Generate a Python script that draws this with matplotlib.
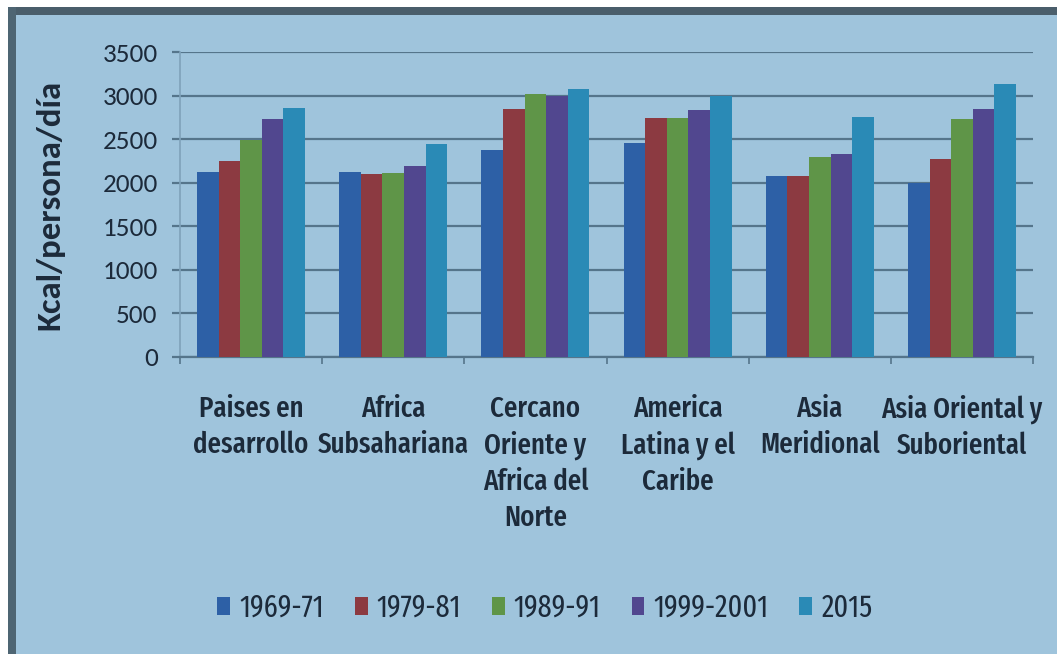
import matplotlib
matplotlib.use("Agg")
import numpy as np
from matplotlib import pyplot as plt, patches
from matplotlib.patches import Patch

regions = [
    "Paises en\ndesarrollo",
    "Africa\nSubsahariana",
    "Cercano\nOriente y\nAfrica del\nNorte",
    "America\nLatina y el\nCaribe",
    "Asia\nMeridional",
    "Asia Oriental y\nSuboriental",
]
periods = ["1969-71", "1979-81", "1989-91", "1999-2001", "2015"]

kcal_1969 = [2120, 2120, 2370, 2450, 2080, 2000]
kcal_1979 = [2250, 2100, 2850, 2740, 2080, 2270]
kcal_1989 = [2490, 2110, 3020, 2740, 2290, 2730]
kcal_1999 = [2730, 2190, 3000, 2840, 2330, 2850]
kcal_2015 = [2860, 2440, 3080, 3000, 2750, 3130]

yticks = [0, 500, 1000, 1500, 2000, 2500, 3000, 3500]

series = [kcal_1969, kcal_1979, kcal_1989, kcal_1999, kcal_2015]
colors = ["#2d60a6", "#8c3a41", "#5f9548", "#51478f", "#2a8ab6"]

bg = "#9fc4dc"
grid_col = "#55758b"
text_col = "#1c2a3a"
narrow = "Fira Sans Extra Condensed"

W, H = 1057, 658
fig = plt.figure(figsize=(W / 100, H / 100), dpi=100)
fig.patch.set_facecolor("white")

# slide panel with a dark frame on the top and left edges
fig.add_artist(patches.Rectangle((8 / W, 1 - 654 / H), 1 - 8 / W, (654 - 7) / H,
                                 transform=fig.transFigure, facecolor=bg,
                                 edgecolor="none", zorder=-10))
fig.add_artist(patches.Rectangle((8 / W, 1 - 15 / H), 1 - 8 / W, 8 / H,
                                 transform=fig.transFigure, facecolor="#4a5e6b",
                                 edgecolor="none", zorder=-9))
fig.add_artist(patches.Rectangle((8 / W, 1 - 654 / H), 8 / W, (654 - 7) / H,
                                 transform=fig.transFigure, facecolor="#4e6573",
                                 edgecolor="none", zorder=-9))

ax = fig.add_axes([180 / W, 1 - 357 / H, (1033 - 180) / W, (357 - 52) / H])
ax.set_facecolor("none")

x = np.arange(len(regions))
bar_w = 0.152
for i, (vals, col) in enumerate(zip(series, colors)):
    ax.bar(x + (i - 2) * bar_w, vals, bar_w, color=col, zorder=3,
           label=periods[i])

ax.set_xlim(-0.5, len(regions) - 0.5)
ax.set_ylim(0, 3500)
ax.set_yticks(yticks)
ax.set_yticklabels([str(v) for v in yticks], family="Carlito", fontsize=19.5,
                   color=text_col)
ax.yaxis.grid(True, color=grid_col, linewidth=1.6, zorder=1)
ax.tick_params(axis="y", length=6, width=1.6, color=grid_col, pad=10)

ax.set_xticks(x)
ax.set_xticklabels(regions, family=narrow, fontsize=21, fontweight="medium",
                   color=text_col, linespacing=1.33, va="top")
ax.tick_params(axis="x", which="major", length=0, pad=27)
ax.set_xticks(np.arange(len(regions) + 1) - 0.5, minor=True)
ax.tick_params(axis="x", which="minor", length=5, width=1.2, color=grid_col)

for side in ["top", "right"]:
    ax.spines[side].set_visible(False)
ax.spines["left"].set_color("#7fa2ba")
ax.spines["left"].set_linewidth(1.2)
ax.spines["bottom"].set_color(grid_col)
ax.spines["bottom"].set_linewidth(1.6)

ax.set_ylabel("Kcal/persona/día", family="Carlito", fontweight="bold",
              fontsize=25, color=text_col)
ax.yaxis.set_label_coords(-0.135, 0.5)

handles = [Patch(facecolor=c, edgecolor="none") for c in colors]
fig.legend(handles, periods, loc="center", bbox_to_anchor=(545 / W, 1 - 608 / H),
           ncol=5, frameon=False, prop={"family": narrow, "size": 22},
           labelcolor=text_col, handlelength=0.42, handleheight=0.55,
           handletextpad=0.3, columnspacing=1.0)

fig.savefig("out.png", dpi=100, facecolor=fig.get_facecolor())
